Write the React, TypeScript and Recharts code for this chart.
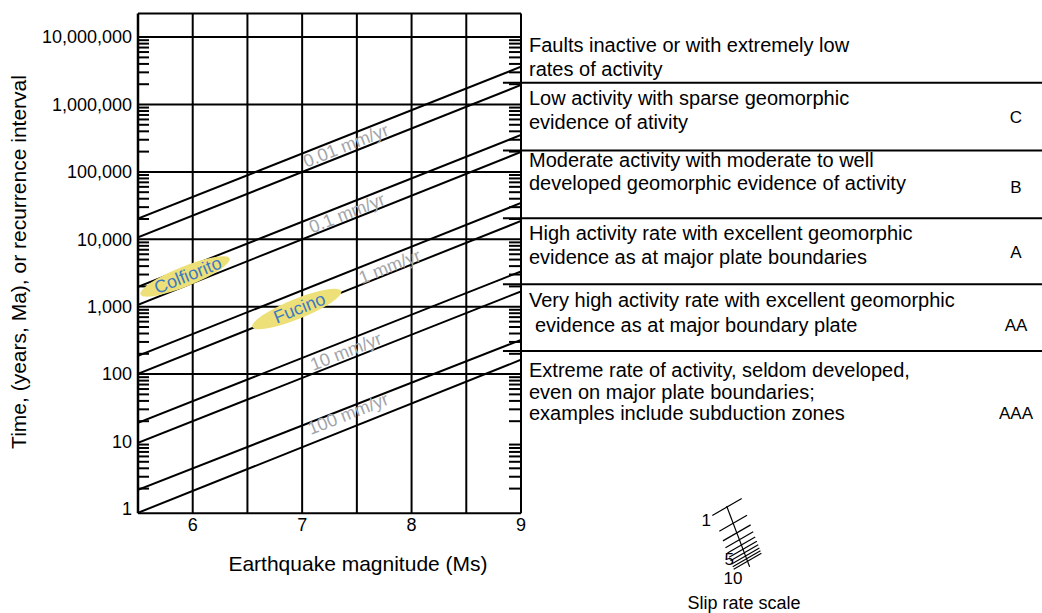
import { LineChart, Line, XAxis, YAxis, ReferenceLine, ReferenceDot } from 'recharts';

const FONT = '"Liberation Sans", Arial, Helvetica, sans-serif';

// magnitudes where each recurrence line is sampled
const magnitudes = [5.5, 9];
// recurrence interval (years) of the ten lines at M 5.5 and at M 9 (two per slip rate)
const lineAtStart = [20270, 10740, 1967, 1064, 186, 101, 18.9, 9.55, 1.92, 0.875];
const lineAtEnd = [3.64e6, 1.95e6, 3.53e5, 1.98e5, 34650, 18740, 3340, 1687, 322, 163];

const xGrid = [6, 6.5, 7, 7.5, 8, 8.5];
const yGrid = [100, 1e3, 1e4, 1e5, 1e6, 1e7];
const xLabelTicks = [6, 7, 8, 9];
const yLabelTicks = [1, 10, 100, 1e3, 1e4, 1e5, 1e6, 1e7];
const xMinorTicks = [
  5.6, 5.7, 5.8, 5.9, 6, 6.1, 6.2, 6.3, 6.4, 6.5, 6.6, 6.7, 6.8, 6.9, 7, 7.1, 7.2, 7.3,
  7.4, 7.5, 7.6, 7.7, 7.8, 7.9, 8, 8.1, 8.2, 8.3, 8.4, 8.5, 8.6, 8.7, 8.8, 8.9,
];
const yDecades = [1, 10, 100, 1e3, 1e4, 1e5, 1e6];
const yMantissas = [2, 3, 4, 5, 6, 7, 8, 9];
const yMinorTicks = yDecades.flatMap((d) => yMantissas.map((m) => m * d));

const Y_DOMAIN = [0.86, 2.24e7];

const rateLabels = ['0.01 mm/yr', '0.1 mm/yr', '1 mm/yr', '10 mm/yr', '100 mm/yr'];
const rateLabelM = [7.4, 7.41, 7.8, 7.4, 7.42];
const rateLabelT = [2.45e5, 24370, 3935, 216, 25.7];

const sites = ['Colfiorito', 'Fucino'];
const siteM = [5.93, 6.95];
const siteT = [2813, 922];

// boundaries between activity classes (years)
const classBounds = [2.11e6, 2.07e5, 20550, 2157, 221];
const classLines = [
  { y: 52, x: 529, text: 'Faults inactive or with extremely low' },
  { y: 76, x: 529, text: 'rates of activity' },
  { y: 105, x: 529, text: 'Low activity with sparse geomorphic' },
  { y: 129, x: 529, text: 'evidence of ativity' },
  { y: 167, x: 529, text: 'Moderate activity with moderate to well' },
  { y: 190, x: 529, text: 'developed geomorphic evidence of activity' },
  { y: 240, x: 529, text: 'High activity rate with excellent geomorphic' },
  { y: 264, x: 529, text: 'evidence as at major plate boundaries' },
  { y: 307, x: 529, text: 'Very high activity rate with excellent geomorphic' },
  { y: 332, x: 535, text: 'evidence as at major boundary plate' },
  { y: 377, x: 529, text: 'Extreme rate of activity, seldom developed,' },
  { y: 399, x: 529, text: 'even on major plate boundaries;' },
  { y: 420, x: 529, text: 'examples include subduction zones' },
];
const grades = ['C', 'B', 'A', 'AA', 'AAA'];
const gradeY = [123, 193, 258, 331, 419];

const slipTicks = [1, 2, 3, 4, 5, 6, 7, 8, 9, 10];

const chartData = magnitudes.map((m, i) => {
  const row: Record<string, number> = { m };
  const src = i === 0 ? lineAtStart : lineAtEnd;
  src.forEach((v, k) => {
    row[`l${k}`] = v;
  });
  return row;
});

const LINE_ANGLE = -21.6;

function formatT(v: number) {
  return v.toLocaleString('en-US');
}

// tick marks only, no label
const NoLabel = () => <g />;

function RateLabel(props: any) {
  const { cx, cy, text } = props;
  return (
    <text
      x={cx}
      y={cy}
      textAnchor="middle"
      dominantBaseline="central"
      fontSize={18}
      fontFamily={FONT}
      fill="#a2a5aa"
      transform={`rotate(${LINE_ANGLE} ${cx} ${cy})`}
    >
      {text}
    </text>
  );
}

function SiteMark(props: any) {
  const { cx, cy, text } = props;
  return (
    <g transform={`rotate(-22 ${cx} ${cy})`}>
      <ellipse cx={cx} cy={cy} rx={48} ry={10} fill="#ede079" />
      <text
        x={cx + 3}
        y={cy}
        textAnchor="middle"
        dominantBaseline="central"
        fontSize={18}
        fontFamily={FONT}
        fill="#3d79c2"
      >
        {text}
      </text>
    </g>
  );
}

function SlipScale() {
  const x0 = 727;
  const y0 = 507;
  const ux = 0.354;
  const uy = 0.935;
  const len = 58;
  const tx = 0.866;
  const ty = -0.5;
  return (
    <g stroke="#000" strokeWidth={1.2}>
      <line x1={x0 - ux * 1} y1={y0 - uy * 1} x2={x0 + ux * 64} y2={y0 + uy * 64} />
      {slipTicks.map((v) => {
        const t = Math.log10(v) * len;
        const cx = x0 + ux * t;
        const cy = y0 + uy * t;
        const half = v === 1 ? 17 : 16;
        return (
          <line
            key={v}
            x1={cx - tx * half}
            y1={cy - ty * half}
            x2={cx + tx * half}
            y2={cy + ty * half}
          />
        );
      })}
    </g>
  );
}

export default function App() {
  return (
    <div style={{ position: 'absolute', left: 0, top: 0, width: 1042, height: 613, background: '#fff' }}>
      <LineChart
        width={1042}
        height={613}
        data={chartData}
        margin={{ top: 13.5, right: 521, bottom: 69.7, left: 78 }}
      >
        <XAxis
          dataKey="m"
          type="number"
          domain={[5.5, 9]}
          allowDataOverflow
          ticks={xLabelTicks}
          tickLine={false}
          tickSize={0}
          tickMargin={5}
          height={30}
          axisLine={{ stroke: '#000', strokeWidth: 2 }}
          tick={{ fill: '#000', fontSize: 18, fontFamily: FONT }}
        />
        <XAxis
          xAxisId="top"
          orientation="top"
          mirror
          type="number"
          domain={[5.5, 9]}
          allowDataOverflow
          ticks={xMinorTicks}
          interval={0}
          tick={NoLabel}
          tickSize={8}
          tickLine={{ stroke: '#000', strokeWidth: 2 }}
          axisLine={{ stroke: '#000', strokeWidth: 2 }}
        />
        <XAxis
          xAxisId="minorB"
          orientation="bottom"
          mirror
          type="number"
          domain={[5.5, 9]}
          allowDataOverflow
          ticks={xMinorTicks}
          interval={0}
          tick={NoLabel}
          tickSize={11}
          tickLine={{ stroke: '#000', strokeWidth: 2 }}
          axisLine={false}
        />
        <YAxis
          scale="log"
          type="number"
          domain={Y_DOMAIN}
          allowDataOverflow
          ticks={yLabelTicks}
          interval={0}
          tickFormatter={formatT}
          tickLine={false}
          tickSize={0}
          tickMargin={6}
          width={60}
          axisLine={{ stroke: '#000', strokeWidth: 2.5 }}
          tick={{ fill: '#000', fontSize: 18, fontFamily: FONT }}
        />
        <YAxis
          yAxisId="minorL"
          orientation="left"
          mirror
          scale="log"
          type="number"
          domain={Y_DOMAIN}
          allowDataOverflow
          ticks={yMinorTicks}
          interval={0}
          tick={NoLabel}
          tickSize={11}
          tickLine={{ stroke: '#000', strokeWidth: 2 }}
          axisLine={false}
        />
        <YAxis
          yAxisId="right"
          orientation="right"
          mirror
          scale="log"
          type="number"
          domain={Y_DOMAIN}
          allowDataOverflow
          ticks={yMinorTicks}
          interval={0}
          tick={NoLabel}
          tickSize={12}
          tickLine={{ stroke: '#000', strokeWidth: 2 }}
          axisLine={{ stroke: '#000', strokeWidth: 2 }}
        />
        {xGrid.map((x) => (
          <ReferenceLine key={`gx${x}`} x={x} stroke="#000" strokeWidth={2} />
        ))}
        {yGrid.map((y) => (
          <ReferenceLine key={`gy${y}`} y={y} stroke="#000" strokeWidth={2} />
        ))}
        {classBounds.map((y) => (
          <ReferenceLine
            key={`cb${y}`}
            segment={[
              { x: 8.835, y },
              { x: 13.8, y },
            ]}
            ifOverflow="visible"
            stroke="#000"
            strokeWidth={2}
          />
        ))}
        {lineAtStart.map((_, k) => (
          <Line
            key={`l${k}`}
            dataKey={`l${k}`}
            type="linear"
            stroke="#000"
            strokeWidth={2}
            dot={false}
            activeDot={false}
            isAnimationActive={false}
          />
        ))}
        {sites.map((s, i) => (
          <ReferenceDot
            key={s}
            x={siteM[i]}
            y={siteT[i]}
            shape={(p: any) => <SiteMark {...p} text={s} />}
          />
        ))}
        {rateLabels.map((s, i) => (
          <ReferenceDot
            key={s}
            x={rateLabelM[i]}
            y={rateLabelT[i]}
            shape={(p: any) => <RateLabel {...p} text={s} />}
          />
        ))}
      </LineChart>
      <svg
        width={1042}
        height={613}
        style={{ position: 'absolute', left: 0, top: 0, pointerEvents: 'none' }}
        fontFamily={FONT}
      >
        <text x={358} y={570.5} textAnchor="middle" fontSize={21} fill="#000">
          Earthquake magnitude (Ms)
        </text>
        <text
          x={0}
          y={0}
          textAnchor="middle"
          fontSize={21}
          fill="#000"
          transform="translate(26 262) rotate(-90)"
        >
          Time, (years, Ma), or recurrence interval
        </text>
        {classLines.map((l) => (
          <text key={l.text} x={l.x} y={l.y} fontSize={20} fill="#000">
            {l.text}
          </text>
        ))}
        {grades.map((g, i) => (
          <text key={g} x={1016} y={gradeY[i]} textAnchor="middle" fontSize={17} fill="#000">
            {g}
          </text>
        ))}
        <SlipScale />
        <text x={711} y={526} textAnchor="end" fontSize={17} fill="#000">1</text>
        <text x={734} y={565} textAnchor="end" fontSize={17} fill="#000">5</text>
        <text x={733} y={584} textAnchor="middle" fontSize={17} fill="#000">10</text>
        <text x={744} y={609} textAnchor="middle" fontSize={18} fill="#000">
          Slip rate scale
        </text>
      </svg>
    </div>
  );
}
